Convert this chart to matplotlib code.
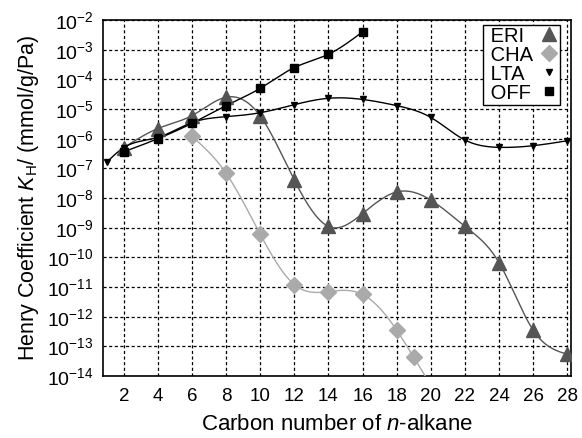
import numpy as np
import matplotlib.pyplot as plt

plt.rcParams['font.family'] = ['Liberation Sans', 'DejaVu Sans']
plt.rcParams['mathtext.fontset'] = 'custom'
plt.rcParams['mathtext.rm'] = 'Liberation Sans'
plt.rcParams['mathtext.it'] = 'Liberation Sans:italic'

# data
eri_x = [2, 4, 6, 8, 10, 12, 14, 16, 18, 20, 22, 24, 26, 28]
eri_y = [5e-7, 2.2e-6, 6e-6, 2.5e-5, 5.8e-6, 4e-8, 1.1e-9, 3e-9, 1.6e-8, 8.5e-9,
         1.1e-9, 6.6e-11, 3.5e-13, 5.4e-14]

cha_x = [6, 8, 10, 12, 14, 16, 18, 19]
cha_y = [1.2e-6, 6.8e-8, 6e-10, 1.2e-11, 7e-12, 5.6e-12, 3.5e-13, 4.2e-14]

lta_x = [1, 2, 4, 6, 8, 10, 12, 14, 16, 18, 20, 22, 24, 26, 28]
lta_y = [1.6e-7, 5e-7, 1.1e-6, 3.5e-6, 5.5e-6, 7.5e-6, 1.4e-5, 2.3e-5, 2.1e-5,
         1.3e-5, 5.2e-6, 9e-7, 5.1e-7, 5.8e-7, 8.5e-7]

off_x = [2, 4, 6, 8, 10, 12, 14, 16]
off_y = [3.6e-7, 1.0e-6, 3.3e-6, 1.3e-5, 5e-5, 2.5e-4, 7e-4, 4e-3]


def spline(x, y, x_end=None, n=400):
    # natural cubic spline in log10 space
    x = np.asarray(x, float)
    ly = np.log10(y)
    m = len(x)
    h = np.diff(x)
    A = np.zeros((m, m))
    b = np.zeros(m)
    A[0, 0] = A[-1, -1] = 1
    for i in range(1, m - 1):
        A[i, i - 1] = h[i - 1]
        A[i, i] = 2 * (h[i - 1] + h[i])
        A[i, i + 1] = h[i]
        b[i] = 6 * ((ly[i + 1] - ly[i]) / h[i] - (ly[i] - ly[i - 1]) / h[i - 1])
    M = np.linalg.solve(A, b)
    end = x[-1] if x_end is None else x_end
    xs = np.linspace(x[0], end, n)
    idx = np.clip(np.searchsorted(x, xs) - 1, 0, m - 2)
    x0, x1 = x[idx], x[idx + 1]
    hh = x1 - x0
    t0, t1 = x1 - xs, xs - x0
    ys = (M[idx] * t0**3 / (6 * hh) + M[idx + 1] * t1**3 / (6 * hh)
          + (ly[idx] / hh - M[idx] * hh / 6) * t0
          + (ly[idx + 1] / hh - M[idx + 1] * hh / 6) * t1)
    return xs, 10**ys


fig = plt.figure(figsize=(5.82, 4.38), dpi=100)
ax = fig.add_axes([0.1775, 0.1416, 0.8031, 0.8127])

series = [
    ('ERI', eri_x, eri_y, '#555555', '^', 10, None),
    ('CHA', cha_x, cha_y, '#aaaaaa', 'D', 8.5, 20),
    ('LTA', lta_x, lta_y, 'black', 'v', 5, None),
    ('OFF', off_x, off_y, 'black', 's', 6, None),
]
for name, xs, ys, col, mk, ms, xe in series:
    sx, sy = spline(xs, ys, xe)
    ax.plot(sx, sy, color=col, lw=1.0, zorder=3)
    ax.plot(xs, ys, ls='none', marker=mk, ms=ms, color=col, mec=col,
            label=' ' + name, zorder=4)

ax.set_yscale('log')
ax.set_xlim(0.8, 28.2)
ax.set_ylim(1e-14, 1e-2)
ax.set_xticks(range(2, 29, 2))
ax.set_yticks([10.0**k for k in range(-14, -1)])
ax.minorticks_off()
ax.tick_params(length=0)
ax.tick_params(axis='x', labelsize=13.5, pad=9)
ax.tick_params(axis='y', labelsize=14, pad=7)
ax.grid(True, color='black', ls=(0, (2.5, 2)), lw=0.9)
for s in ax.spines.values():
    s.set_linewidth(1.2)

ax.set_xlabel('Carbon number of $\\it{n}$-alkane', fontsize=16, labelpad=6)
ax.set_ylabel('Henry Coefficient $K_\\mathrm{H}$/ (mmol/g/Pa)', fontsize=15.5,
              labelpad=4)

leg = ax.legend(loc='upper right', bbox_to_anchor=(560 / 582, 1 - 24.5 / 438),
                bbox_transform=fig.transFigure, borderaxespad=0,
                markerfirst=False, fontsize=14.5,
                frameon=True, fancybox=False, edgecolor='black',
                handlelength=0.9, handletextpad=0.35, labelspacing=0.0,
                borderpad=0.1, framealpha=1)
leg.get_frame().set_linewidth(1.0)

# left-align the labels while keeping the markers in one column
fig.canvas.draw()
rend = fig.canvas.get_renderer()
widths = [t.get_window_extent(rend).width for t in leg.get_texts()]
column = leg._legend_handle_box.get_children()[0]
column.align = 'left'
for row, w in zip(column.get_children(), widths):
    row.sep += (max(widths) - w) * 72 / fig.dpi

fig.savefig('out.png', dpi=100)
